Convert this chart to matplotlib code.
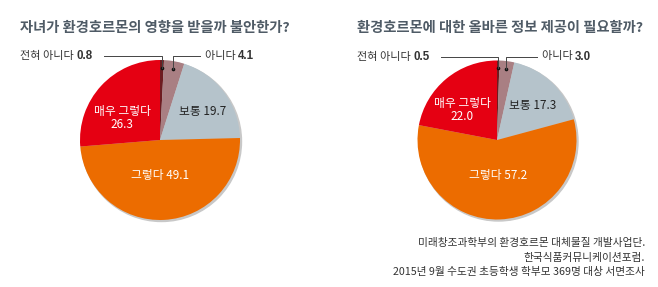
import numpy as np
import matplotlib.pyplot as plt

plt.rcParams['font.family'] = ['Noto Sans CJK KR', 'DejaVu Sans']

# 데이터 (%)
categorias = ['전혀 아니다', '아니다', '보통', '그렇다', '매우 그렇다']
valores_ansiedad = [0.8, 4.1, 19.7, 49.1, 26.3]
valores_info = [0.5, 3.0, 17.3, 57.2, 22.0]
titulos = ['자녀가 환경호르몬의 영향을 받을까 불안한가?',
           '환경호르몬에 대한 올바른 정보 제공이 필요할까?']
fuente = ['미래창조과학부의 환경호르몬 대체물질 개발사업단.',
          '한국식품커뮤니케이션포럼.',
          '2015년 9월 수도권 초등학생 학부모 369명 대상 서면조사']

colores = ['#6E1B20', '#A97F83', '#B5C3CB', '#EC6C00', '#E50012']
W, H = 658, 287


def Y(y):
    # coordenada en pixeles (desde arriba) -> datos
    return H - y


fig = plt.figure(figsize=(W / 100, H / 100), dpi=100)
ax = fig.add_axes([0, 0, 1, 1])
ax.set_xlim(0, W)
ax.set_ylim(0, H)
renderer = fig.canvas.get_renderer()


def ancho(t):
    return t.get_window_extent(renderer=renderer).width


def dibujar_torta(valores, cx, cy, r, titulo, tx, pos_txt):
    # sombra
    ax.add_patch(plt.Circle((cx + 1.5, Y(cy) - 1.5), r, color='#C8C8C8', zorder=0))
    ax.pie(valores, colors=colores, startangle=90, counterclock=False,
           center=(cx, Y(cy)), radius=r, wedgeprops=dict(linewidth=0))
    ax.set_xlim(0, W)
    ax.set_ylim(0, H)
    ax.text(tx, Y(28), titulo, fontsize=10.3, fontweight='bold', color='#4F5B66',
            va='center', ha='left')

    acum = np.cumsum([0] + valores)
    medios = 90 - (acum[:-1] + np.array(valores) / 2) * 3.6
    y_linea = Y(cy - r - 4)
    # etiquetas externas (dos primeras)
    for i, lado in [(0, -1), (1, 1)]:
        ang = np.radians(medios[i])
        px = cx + 0.9 * r * np.cos(ang)
        py = Y(cy) + 0.9 * r * np.sin(ang)
        ax.plot([px], [py], 'o', ms=1.6, color='#111111', zorder=5)
        if lado < 0:
            x_txt = tx
            x_fin = tx + 84
        else:
            x_fin = cx + 40
            x_txt = x_fin + 5
        ax.plot([px, px, x_fin], [py, y_linea, y_linea], color='#444444', lw=0.7, zorder=5)
        t = ax.text(x_txt, y_linea, f'{categorias[i]} ', fontsize=8, color='#333333',
                    va='center', ha='left')
        ax.text(x_txt + ancho(t), y_linea, f'{valores[i]:.1f}', fontsize=8.3,
                fontweight='bold', family='Liberation Sans', color='#333333',
                va='center', ha='left')

    # etiquetas internas
    x2, y2 = pos_txt[0]
    ax.text(x2, Y(y2), f'{categorias[2]} {valores[2]:.1f}', fontsize=8.5, color='#222222',
            ha='center', va='center', fontweight='medium')
    x3, y3 = pos_txt[1]
    ax.text(x3, Y(y3), f'{categorias[3]} {valores[3]:.1f}', fontsize=8.5, color='white',
            ha='center', va='center', fontweight='medium')
    x4, y4 = pos_txt[2]
    ax.text(x4, Y(y4), f'{categorias[4]}\n{valores[4]:.1f}', fontsize=8.5, color='white',
            ha='center', va='center', linespacing=1.05, fontweight='medium')


dibujar_torta(valores_ansiedad, 160, 140, 80, titulos[0], 20,
              [(203, 112), (160, 175), (122, 118)])
dibujar_torta(valores_info, 497, 140, 79.5, titulos[1], 357,
              [(533, 105), (498, 176), (462, 110)])

for i, linea in enumerate(fuente):
    ax.text(645, Y(243 + i * 14.5), linea, fontsize=7.7, color='#333333',
            ha='right', va='center')

ax.set_xlim(0, W)
ax.set_ylim(0, H)
ax.set_aspect('equal')
ax.axis('off')

plt.savefig('out.png', dpi=100, facecolor='white')
